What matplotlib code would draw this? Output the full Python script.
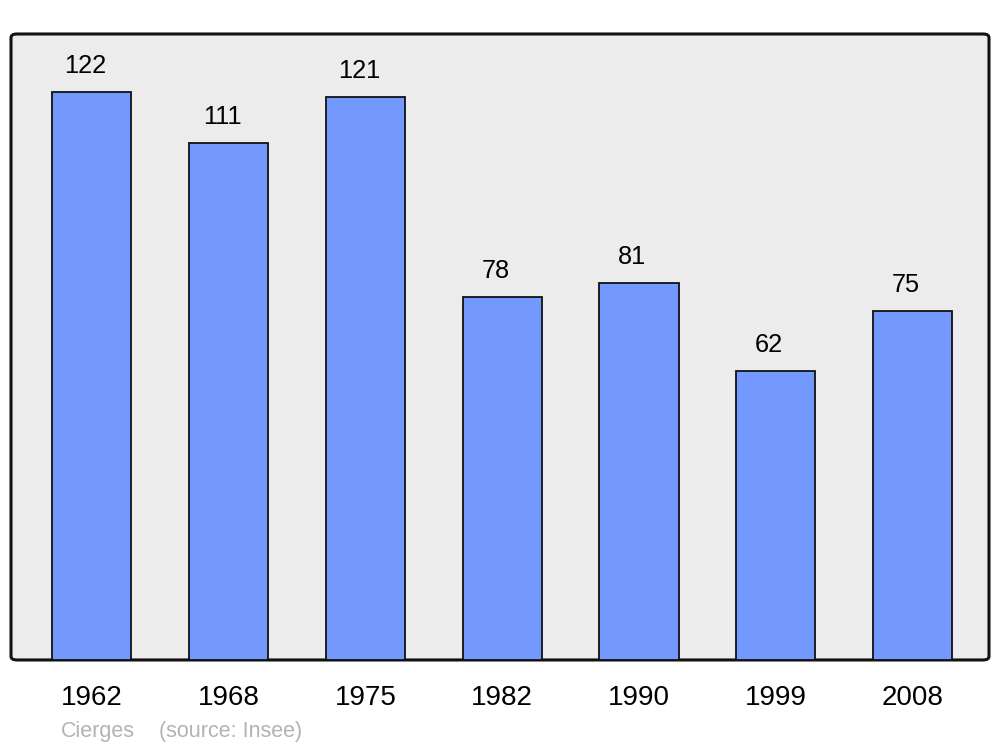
import matplotlib.pyplot as plt
from matplotlib.patches import FancyBboxPatch

plt.rcParams['font.family'] = ['Liberation Sans', 'DejaVu Sans']

years = ['1962', '1968', '1975', '1982', '1990', '1999', '2008']
population = [122, 111, 121, 78, 81, 62, 75]

fig = plt.figure(figsize=(10, 7.47), dpi=100)
ax = fig.add_axes([0.011, 0.1165, 0.978, 0.838])

ax.set_facecolor('none')
for s in ax.spines.values():
    s.set_visible(False)

# rounded grey frame
frame = FancyBboxPatch((0, 0), 1, 1, boxstyle='round,pad=0,rounding_size=0.006',
                       transform=ax.transAxes, facecolor='#ececec',
                       edgecolor='#111111', linewidth=2.2, zorder=0, clip_on=False)
ax.add_patch(frame)

x = range(len(years))
bars = ax.bar(x, population, width=0.578, color='#7399ff', edgecolor='#111111',
              linewidth=1.3, zorder=2)

for rect, v in zip(bars, population):
    ax.annotate(str(v), (rect.get_x() + rect.get_width() / 2, v),
                xytext=(-4.8, 13.7), textcoords='offset points',
                ha='center', va='baseline', fontsize=18.3, color='black')

ax.set_xlim(-0.592, 6.559)
ax.set_ylim(0, 134.5)
ax.set_xticks(list(x))
ax.set_xticklabels(years, fontsize=20)
ax.tick_params(axis='x', length=0, pad=18)
ax.set_yticks([])

fig.text(0.061, 10 / 747, 'Cierges', color='#b3b3b3', fontsize=15.5, va='baseline')
fig.text(0.159, 10 / 747, '(source: Insee)', color='#b3b3b3', fontsize=15.5, va='baseline')

fig.savefig('out.png', dpi=100, facecolor='white')
